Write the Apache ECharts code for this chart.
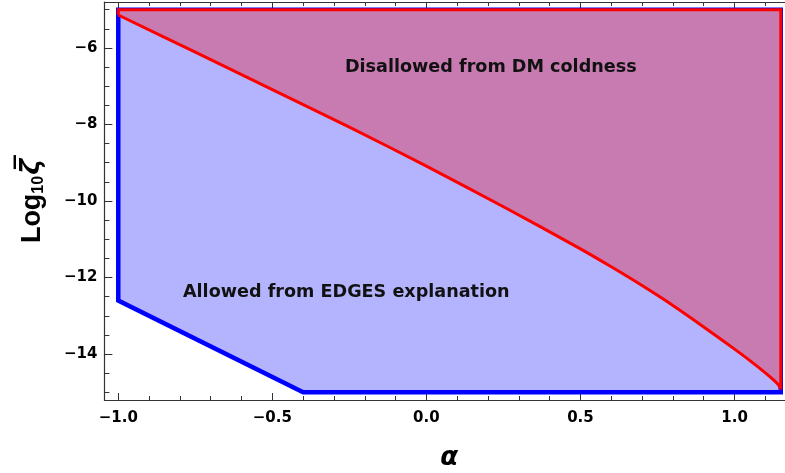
<!DOCTYPE html>
<html><head><meta charset="utf-8">
<script src="https://cdn.jsdelivr.net/npm/echarts@6/dist/echarts.min.js"></script>
<style>html,body{margin:0;padding:0;background:#fff}#c{width:785px;height:473px}</style>
</head><body><div id="c"></div>
<script>
// Boundary of "Disallowed from DM coldness" (red curve): alpha vs Log10 zeta-bar
const curveAlpha = [-1.0, -0.75, -0.5, -0.25, 0.0, 0.25, 0.5, 0.6, 0.7, 0.8, 0.9, 1.0, 1.05, 1.1, 1.13, 1.145, 1.15];
const curveLog   = [-5.14, -6.11, -7.09, -8.07, -9.09, -10.15, -11.25, -11.72, -12.21, -12.73, -13.29, -13.87, -14.17, -14.49, -14.70, -14.83, -14.92];
// Region allowed from EDGES explanation (blue polygon)
const allowedAlpha = [-1.0, 1.15, 1.15, -0.4, -1.0];
const allowedLog   = [-5.0, -5.0, -15.0, -15.0, -12.6];
// Top edge of disallowed region
const topAlpha = [-1.0, 1.15];
const topLog   = [-5.0, -5.0];
// Tick values
const xMajorTicks = [-1.0, -0.5, 0.0, 0.5, 1.0];
const xMinorTicks = [-1.0, -0.9, -0.8, -0.7, -0.6, -0.5, -0.4, -0.3, -0.2, -0.1, 0.0, 0.1, 0.2, 0.3, 0.4, 0.5, 0.6, 0.7, 0.8, 0.9, 1.0, 1.1];
const yMajorTicks = [-14, -12, -10, -8, -6];
const yMinorTicks = [-15, -14.5, -14, -13.5, -13, -12.5, -12, -11.5, -11, -10.5, -10, -9.5, -9, -8.5, -8, -7.5, -7, -6.5, -6, -5.5, -5];
// Annotations
const annotations = [
  [0.209, -6.52, 'Disallowed from DM coldness'],
  [-0.26, -12.4, 'Allowed from EDGES explanation']
];

const chart = echarts.init(document.getElementById('c'), null, {renderer: 'canvas'});
const XMIN = -1.045, XMAX = 1.193, YMIN = -15.2, YMAX = -4.8;
const frame = '#333';
const tickFont = {fontFamily: 'DejaVu Sans', fontWeight: 'bold', fontSize: 15, color: '#000'};
const fmt = d => v => (v < 0 ? '\u2212' : '') + Math.abs(v).toFixed(d);

function xAx(pos, ticks, len, labels, lineShow) {
  return {
    type: 'value', min: XMIN, max: XMAX, position: pos,
    axisLine: {show: lineShow, onZero: false, lineStyle: {color: frame, width: 1.2}},
    axisTick: {show: true, inside: true, length: len, customValues: ticks, lineStyle: {color: frame, width: 1}},
    axisLabel: labels ? Object.assign({show: true, customValues: ticks, formatter: fmt(1), margin: 11}, tickFont) : {show: false},
    splitLine: {show: false}
  };
}
function yAx(pos, ticks, len, labels, lineShow) {
  return {
    type: 'value', min: YMIN, max: YMAX, position: pos,
    axisLine: {show: lineShow, onZero: false, lineStyle: {color: frame, width: 1.2}},
    axisTick: {show: true, inside: true, length: len, customValues: ticks, lineStyle: {color: frame, width: 1}},
    axisLabel: labels ? Object.assign({show: true, customValues: ticks, formatter: fmt(0), margin: 7}, tickFont) : {show: false},
    splitLine: {show: false}
  };
}

const xAxes = [
  xAx('bottom', xMajorTicks, 7, true, true),
  xAx('bottom', xMinorTicks, 4, false, false),
  xAx('top', xMajorTicks, 7, false, true),
  xAx('top', xMinorTicks, 4, false, false)
];
Object.assign(xAxes[0], {
  name: 'α', nameLocation: 'middle', nameGap: 45,
  nameTextStyle: {fontFamily: 'DejaVu Sans', fontWeight: 'bold', fontStyle: 'italic', fontSize: 26, color: '#000'}
});
const yAxes = [
  yAx('left', yMajorTicks, 8, true, true),
  yAx('left', yMinorTicks, 5, false, false)
];
Object.assign(yAxes[0], {
  name: '{a|Log}{b|10}{c|\u03B6\u0305}', nameLocation: 'middle', nameGap: 58, nameRotate: 90,
  nameTextStyle: {
    rich: {
      a: {fontFamily: 'Liberation Sans', fontWeight: 'bold', fontSize: 27, color: '#000'},
      b: {fontFamily: 'Liberation Sans', fontWeight: 'bold', fontSize: 16, color: '#000', padding: [12, 1, 0, 0]},
      c: {fontFamily: 'DejaVu Sans', fontWeight: 'bold', fontStyle: 'italic', fontSize: 27, color: '#000'}
    }
  }
});

function pts(api, xs, ys) {
  return xs.map((x, i) => api.coord([x, ys[i]]));
}

chart.setOption({
  animation: false,
  backgroundColor: '#fff',
  grid: {left: 104.4, top: 2, width: 689.6, height: 398, containLabel: false, outerBoundsMode: 'none'},
  xAxis: xAxes,
  yAxis: yAxes,
  series: [
    {
      type: 'custom', xAxisIndex: 0, yAxisIndex: 0, clip: false,
      data: [[0]],
      renderItem: function (params, api) {
        const allowed = pts(api, allowedAlpha, allowedLog);
        const top = pts(api, topAlpha, topLog);
        const curve = pts(api, curveAlpha, curveLog);
        const dis = top.concat(curve.slice().reverse());
        const edge = [curve[0], top[0], top[1], curve[curve.length - 1]];
        return {
          type: 'group',
          children: [
            {type: 'polygon', shape: {points: allowed}, style: {fill: '#B4B4FE', stroke: '#0000FF', lineWidth: 4.5, lineJoin: 'miter'}},
            {type: 'polygon', shape: {points: dis, smooth: 0}, style: {fill: '#C77BB1', stroke: null}},
            {type: 'polyline', shape: {points: edge}, style: {fill: null, stroke: '#FF0000', lineWidth: 3, lineJoin: 'miter'}},
            {type: 'polyline', shape: {points: curve, smooth: 0.3}, style: {fill: null, stroke: '#FF0000', lineWidth: 3}}
          ]
        };
      }
    },
    {
      type: 'custom', xAxisIndex: 0, yAxisIndex: 0, clip: false,
      data: annotations,
      renderItem: function (params, api) {
        const p = api.coord([api.value(0), api.value(1)]);
        return {
          type: 'text', x: p[0], y: p[1],
          style: {text: annotations[params.dataIndex][2], x: 0, y: 0, align: 'center', verticalAlign: 'middle',
            fontFamily: 'DejaVu Sans', fontWeight: 'bold', fontSize: 17.6, fill: '#111'}
        };
      }
    }
  ]
});
</script></body></html>
